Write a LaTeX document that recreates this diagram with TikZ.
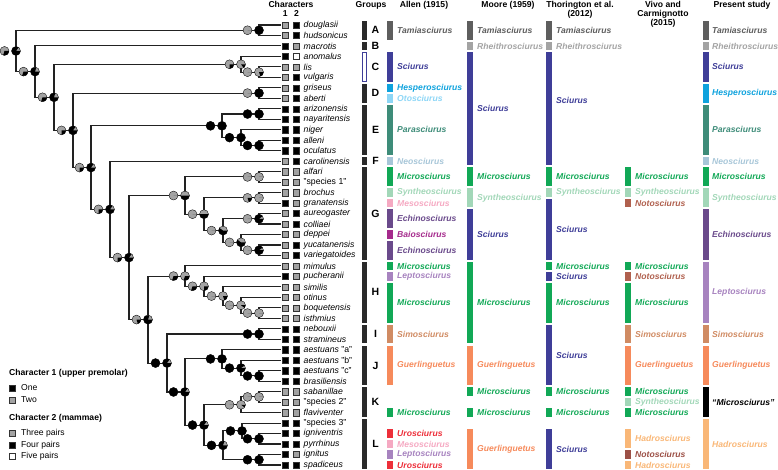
\documentclass[tikz,border=0pt]{standalone}
\usepackage{fontspec}
\setmainfont{Liberation Sans}

\definecolor{pgray}{HTML}{A3A3A3}
\definecolor{treeline}{HTML}{222222}
\definecolor{groupbar}{HTML}{2A2A2A}
\definecolor{tamgray}{HTML}{5E5E5E}
\definecolor{rheigray}{HTML}{A3A3A3}
\definecolor{sciurusc}{HTML}{3F3E98}
\definecolor{hespc}{HTML}{0EA2DD}
\definecolor{otoc}{HTML}{8DD6F6}
\definecolor{parac}{HTML}{3E8C79}
\definecolor{neoc}{HTML}{A7C6D8}
\definecolor{microc}{HTML}{11A856}
\definecolor{synthc}{HTML}{A2D7B8}
\definecolor{mesoc}{HTML}{F5A9C2}
\definecolor{echinoc}{HTML}{6A4A8B}
\definecolor{baioc}{HTML}{A52A8C}
\definecolor{leptoc}{HTML}{A783BF}
\definecolor{simoc}{HTML}{D08B63}
\definecolor{guerlc}{HTML}{F68A5B}
\definecolor{uroc}{HTML}{ED2F3A}
\definecolor{notoc}{HTML}{B0604E}
\definecolor{notoc2}{HTML}{9C5046}
\definecolor{hadroc}{HTML}{F9B777}

% #1 centre, #2 share of black
\newcommand{\charpie}[2]{%
  \fill[pgray] #1 circle (4.5);
  \fill[black] #1 -- ++(0:4.5) arc (0:{360*#2}:4.5) -- cycle;
  \draw[line width=.35pt] #1 circle (4.5);}

\begin{document}
\begin{tikzpicture}[x=1pt, y=-1pt, font=\fontsize{8.6}{8.8}\selectfont,
    declare function={rowy(\n)=25+(\n-1)*10.476;}]
      \tikzstyle{branch}=[line width=1.1pt, draw=treeline]
      \tikzstyle{charbox}=[draw=black!80, line width=.4pt, minimum size=6.2pt, inner sep=0pt]
      \tikzstyle{taxon}=[anchor=west, inner sep=0pt, font=\fontsize{8.7}{8.8}\selectfont\itshape]
      \tikzstyle{genus}=[anchor=west, inner sep=0pt, font=\fontsize{8.6}{8.8}\selectfont\bfseries\itshape]
      \tikzstyle{head}=[anchor=north, inner sep=0pt, align=center, font=\fontsize{8.6}{8.8}\selectfont\bfseries]
      \tikzstyle{grouplabel}=[inner sep=0pt, font=\fontsize{10.5}{11}\selectfont\bfseries]
      \tikzstyle{keytext}=[anchor=west, inner sep=0pt]

      \useasboundingbox (0,0) rectangle (778,470);

      % draw taxa and characters

      \foreach \l/\p/\q [count=\y] in {douglasii/pgray/black, hudsonicus/pgray/black,
          macrotis/black/pgray, anomalus/black/white, lis/pgray/pgray, vulgaris/pgray/black,
          griseus/pgray/black, aberti/pgray/black, arizonensis/black/black,
          nayaritensis/black/black, niger/black/black, alleni/black/black, oculatus/black/black,
          carolinensis/pgray/black, alfari/pgray/pgray, {\upshape"species 1"}/pgray/pgray,
          brochus/pgray/pgray, granatensis/black/pgray, aureogaster/pgray/black,
          colliaei/pgray/black, deppei/pgray/pgray, yucatanensis/pgray/black,
          variegatoides/pgray/black, mimulus/pgray/pgray, pucheranii/black/pgray,
          similis/pgray/pgray, otinus/pgray/pgray, boquetensis/pgray/pgray,
          isthmius/pgray/pgray, nebouxii/black/black, stramineus/black/black,
          aestuans {\upshape"a"}/black/black, aestuans {\upshape"b"}/black/black,
          aestuans {\upshape"c"}/black/black, brasiliensis/black/black,
          sabanillae/pgray/pgray, {\upshape"species 2"}/pgray/pgray, flaviventer/pgray/pgray,
          {\upshape"species 3"}/black/black, igniventris/black/black, pyrrhinus/black/black,
          ignitus/black/pgray, spadiceus/black/black} {
        \coordinate (tip-\y) at (281,{rowy(\y)});
        \node [charbox, fill=\p] (char1-\y) at (285.2,{rowy(\y)}) {};
        \node [charbox, fill=\q] (char2-\y) at (296.5,{rowy(\y)}) {};
        \node [taxon] (taxon-\y) at (303.5,{rowy(\y)}) {\l};
      }

      % draw tree

      \foreach \n/\x/\r in {root/16/3.48, n2/35/5.45, n3/54/7.9, n4/73/11.06, n5/91/14.61,
          n6/110/18.6, n7/129/23.2, n8/148/29.12, n9/167/33.27, n10/185/36.03, n11/204/39.19,
          A/259/1.5, C/241/4.75, C1/259/5.5, D/259/7.5, E/222/10.625, E1/259/9.5, E2/241/11.75,
          E3/259/12.5, G/185/17.28, G1/259/15.5, G2/204/19.06, G3/259/17.5, G4/223/20.625,
          G5/259/19.5, G6/241/21.75, G7/259/22.5, H/185/24.97, H1/204/25.94, H2/223/26.875,
          H3/241/27.75, H4/259/28.5, I/259/30.5, J/222/32.875, J1/241/33.75, J2/259/34.5,
          K/241/37.25, K1/259/36.5, L/223/41.125, L1/242/39.75, L2/259/40.5, L3/259/42.5}
      \coordinate (\n) at (\x,{rowy(\r)});

      \foreach \p/\c in {root/A, root/n2, A/tip-1, A/tip-2, n2/tip-3, n2/n3, n3/C, n3/n4,
          C/tip-4, C/C1, C1/tip-5, C1/tip-6, n4/D, n4/n5, D/tip-7, D/tip-8, n5/E, n5/n6,
          E/E1, E/E2, E1/tip-9, E1/tip-10, E2/tip-11, E2/E3, E3/tip-12, E3/tip-13,
          n6/tip-14, n6/n7, n7/G, n7/n8, G/G1, G/G2, G1/tip-15, G1/tip-16, G2/G3, G2/G4,
          G3/tip-17, G3/tip-18, G4/G5, G4/G6, G5/tip-19, G5/tip-20, G6/tip-21, G6/G7,
          G7/tip-22, G7/tip-23, n8/H, n8/n9, H/tip-24, H/H1, H1/tip-25, H1/H2, H2/tip-26,
          H2/H3, H3/tip-27, H3/H4, H4/tip-28, H4/tip-29, n9/I, n9/n10, I/tip-30, I/tip-31,
          n10/J, n10/n11, J/tip-32, J/J1, J1/tip-33, J1/J2, J2/tip-34, J2/tip-35,
          n11/K, n11/L, K/K1, K/tip-38, K1/tip-36, K1/tip-37, L/L1, L/L3, L1/tip-39, L1/L2,
          L2/tip-40, L2/tip-41, L3/tip-42, L3/tip-43}
      \draw [branch] (\p) |- (\c);

      % ancestral states (character 1 left, character 2 right)

      \foreach \n/\f/\g in {root/.3/.85, n2/.3/.8, n3/.3/.8, n4/.25/.85, n5/.25/.85,
          n6/.25/.85, n7/.25/.85, n8/.2/.8, n9/1/.85, n10/1/.85, n11/1/.85, A/0/1, C/.25/.15,
          C1/0/.2, D/0/1, E/1/1, E1/1/1, E2/1/1, E3/1/1, G/0/.5, G1/0/0, G2/0/.5, G3/.2/0,
          G4/0/.6, G5/0/.9, G6/0/.6, G7/0/.9, H/.3/.3, H1/.3/.25, H2/0/.2, H3/0/.1, H4/0/0,
          I/1/1, J/1/1, J1/1/.9, J2/1/1, K/0/.1, K1/0/0, L/1/.8, L1/1/1, L2/1/1, L3/1/1} {
        \charpie{([xshift=-11.5pt]\n)}{\f}
        \charpie{(\n)}{\g}
      }

      % draw groups

      \foreach \a/\b/\l in {1/2/A, 3/3/B, 4/6/C, 7/8/D, 9/13/E, 14/14/F, 15/23/G, 24/29/H,
          30/31/I, 32/35/J, 36/38/K, 39/43/L} {
        \fill [groupbar] (362,{rowy(\a)-4.2}) rectangle (367,{rowy(\b)+4.2});
        \node [grouplabel] (group-\l) at (375.5,{(rowy(\a)+rowy(\b))/2}) {\l};
      }
      \filldraw [fill=white, draw=sciurusc, line width=.8pt] (362.4,{rowy(4)-3.8}) rectangle (366.6,{rowy(6)+3.8});

      % draw classifications

      \foreach \a/\b/\c/\t [count=\i] in {1/2/tamgray/Tamiasciurus, 4/6/sciurusc/Sciurus,
          7/7/hespc/Hesperosciurus, 8/8/otoc/Otosciurus, 9/13/parac/Parasciurus,
          14/14/neoc/Neosciurus, 15/16/microc/Microsciurus, 17/17/synthc/Syntheosciurus,
          18/18/mesoc/Mesosciurus, 19/20/echinoc/Echinosciurus, 21/21/baioc/Baiosciurus,
          22/23/echinoc/Echinosciurus, 24/24/microc/Microsciurus, 25/25/leptoc/Leptosciurus,
          26/29/microc/Microsciurus, 30/31/simoc/Simosciurus, 32/35/guerlc/Guerlinguetus,
          38/38/microc/Microsciurus, 40/40/uroc/Urosciurus, 41/41/mesoc/Mesosciurus,
          42/42/leptoc/Leptosciurus, 43/43/uroc/Urosciurus} {
        \fill [\c] (387,{rowy(\a)-4.2}) rectangle (393,{rowy(\b)+4.2});
        \node [genus, text=\c] (allen-\i) at (397,{(rowy(\a)+rowy(\b))/2}) {\t};
      }

      \foreach \a/\b/\c/\t [count=\i] in {1/2/tamgray/Tamiasciurus,
          3/3/rheigray/Rheithrosciurus, 4/14/sciurusc/Sciurus, 15/16/microc/Microsciurus,
          17/18/synthc/Syntheosciurus, 19/23/sciurusc/Sciurus, 24/31/microc/Microsciurus,
          32/35/guerlc/Guerlinguetus, 36/36/microc/Microsciurus, 38/38/microc/Microsciurus,
          40/43/guerlc/Guerlinguetus} {
        \fill [\c] (467,{rowy(\a)-4.2}) rectangle (473,{rowy(\b)+4.2});
        \node [genus, text=\c] (moore-\i) at (477,{(rowy(\a)+rowy(\b))/2}) {\t};
      }

      \foreach \a/\b/\m/\c/\t [count=\i] in {1/2/1.5/tamgray/Tamiasciurus,
          3/3/3/rheigray/Rheithrosciurus, 4/14/8.2/sciurusc/Sciurus,
          15/16/15.5/microc/Microsciurus, 17/17/17/synthc/Syntheosciurus,
          18/23/20.5/sciurusc/Sciurus, 24/24/24/microc/Microsciurus, 25/25/25/sciurusc/Sciurus,
          26/29/27.5/microc/Microsciurus, 30/35/32.5/sciurusc/Sciurus,
          36/36/36/microc/Microsciurus, 38/38/38/microc/Microsciurus,
          40/43/41.5/sciurusc/Sciurus} {
        \fill [\c] (546,{rowy(\a)-4.2}) rectangle (552,{rowy(\b)+4.2});
        \node [genus, text=\c] (thor-\i) at (556,{rowy(\m)}) {\t};
      }

      \foreach \a/\b/\c/\t [count=\i] in {15/16/microc/Microsciurus,
          17/17/synthc/Syntheosciurus, 18/18/notoc/Notosciurus, 24/24/microc/Microsciurus,
          25/25/notoc/Notosciurus, 26/29/microc/Microsciurus, 30/31/simoc/Simosciurus,
          32/35/guerlc/Guerlinguetus, 36/36/microc/Microsciurus, 37/37/synthc/Syntheosciurus,
          38/38/microc/Microsciurus, 40/41/hadroc/Hadrosciurus, 42/42/notoc2/Notosciurus,
          43/43/hadroc/Hadrosciurus} {
        \fill [\c] (625,{rowy(\a)-4.2}) rectangle (631,{rowy(\b)+4.2});
        \node [genus, text=\c] (vivo-\i) at (635,{(rowy(\a)+rowy(\b))/2}) {\t};
      }

      \foreach \a/\b/\c/\t [count=\i] in {1/2/tamgray/Tamiasciurus,
          3/3/rheigray/Rheithrosciurus, 4/6/sciurusc/Sciurus, 7/8/hespc/Hesperosciurus,
          9/13/parac/Parasciurus, 14/14/neoc/Neosciurus, 15/16/microc/Microsciurus,
          17/18/synthc/Syntheosciurus, 19/23/echinoc/Echinosciurus, 24/29/leptoc/Leptosciurus,
          30/31/simoc/Simosciurus, 32/35/guerlc/Guerlinguetus, 36/38/black/“Microsciurus”,
          39/43/hadroc/Hadrosciurus} {
        \fill [\c] (703,{rowy(\a)-4.2}) rectangle (709,{rowy(\b)+4.2});
        \node [genus, text=\c] (present-\i) at (712,{(rowy(\a)+rowy(\b))/2}) {\t};
      }

      % draw text

      \node [head] (head-chars) at (291,1) {Characters};
      \node [head] (head-c1) at (285.2,10.5) {1};
      \node [head] (head-c2) at (296.5,10.5) {2};
      \node [head] (head-groups) at (371,1) {Groups};
      \node [head] (head-allen) at (424,1) {Allen (1915)};
      \node [head] (head-moore) at (508,1) {Moore (1959)};
      \node [head] (head-thor) at (580,1) {Thorington et al.\\(2012)};
      \node [head] (head-vivo) at (663,1) {Vivo and\\Carmignotto\\(2015)};
      \node [head] (head-present) at (742,1) {Present study};

      % draw legend

      \node [keytext, font=\fontsize{8.6}{8.8}\selectfont\bfseries] (key-1) at (9,373) {Character 1 (upper premolar)};
      \foreach \c/\t/\yy [count=\i] in {black/One/388, pgray/Two/400} {
        \node [charbox, fill=\c] (keybox1-\i) at (12,\yy) {};
        \node [keytext] (keytext1-\i) at (21,\yy) {\t};
      }
      \node [keytext, font=\fontsize{8.6}{8.8}\selectfont\bfseries] (key-2) at (9,418) {Character 2 (mammae)};
      \foreach \c/\t/\yy [count=\i] in {pgray/Three pairs/433, black/Four pairs/445, white/Five pairs/456.5} {
        \node [charbox, fill=\c] (keybox2-\i) at (12,\yy) {};
        \node [keytext] (keytext2-\i) at (21,\yy) {\t};
      }

    \end{tikzpicture}
\end{document}
